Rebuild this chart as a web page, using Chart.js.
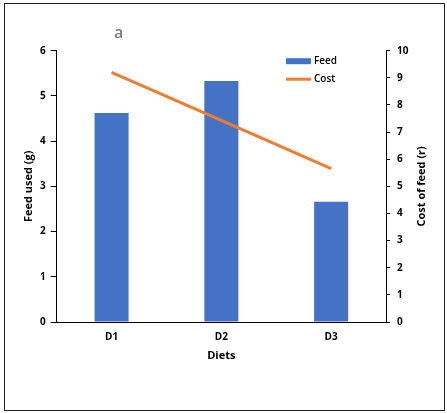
<!DOCTYPE html>
<html>
<head>
<meta charset="utf-8">
<script src="https://cdn.jsdelivr.net/npm/chart.js@4.4.1/dist/chart.umd.min.js"></script>
<style>
html,body{margin:0;padding:0;background:#fff;}
#wrap{position:relative;width:447px;height:413px;}
</style>
</head>
<body>
<div id="wrap"><canvas id="c" width="447" height="413"></canvas></div>
<script>
const categories = ['D1', 'D2', 'D3'];
const feedValues = [4.62, 5.33, 2.66];
const costValues = [9.2, 7.43, 5.65];
const feedTicks = [0, 1, 2, 3, 4, 5, 6];
const costTicks = [0, 1, 2, 3, 4, 5, 6, 7, 8, 9, 10];
const seriesNames = ['Feed', 'Cost'];
const panelLabel = 'a';
const xTitle = 'Diets';
const yTitle = 'Feed used (g)';
const y2Title = 'Cost of feed (r)';

const FONT = '"Open Sans", "Noto Sans", sans-serif';
const BLUE = '#4472C4';
const ORANGE = '#ED7D31';

const decor = {
  id: 'decor',
  beforeDraw(chart) {
    const ctx = chart.ctx;
    ctx.save();
    ctx.fillStyle = '#fff';
    ctx.fillRect(0, 0, chart.width, chart.height);
    ctx.strokeStyle = '#222';
    ctx.lineWidth = 1;
    ctx.strokeRect(4.5, 3.5, 440, 407);
    ctx.restore();
  },
  afterDraw(chart) {
    const ctx = chart.ctx;
    const a = chart.chartArea;
    ctx.save();
    // panel label
    ctx.fillStyle = '#7f7f7f';
    ctx.font = '600 16px ' + FONT;
    ctx.textAlign = 'center';
    ctx.textBaseline = 'middle';
    ctx.fillText(panelLabel, a.left + 62, a.top - 17);
    // right axis title (bottom-to-top)
    ctx.fillStyle = '#000';
    ctx.font = 'bold 11px ' + FONT;
    ctx.translate(chart.width - 25.5, (a.top + a.bottom) / 2);
    ctx.rotate(-Math.PI / 2);
    ctx.fillText(y2Title, 0, 0);
    ctx.restore();
    // legend
    ctx.save();
    const lx = a.right - 100, ly = a.top + 10.5;
    ctx.fillStyle = BLUE;
    ctx.fillRect(lx, ly - 3, 25, 6);
    ctx.strokeStyle = ORANGE;
    ctx.lineWidth = 3;
    ctx.beginPath();
    ctx.moveTo(lx, ly + 18);
    ctx.lineTo(lx + 25, ly + 18);
    ctx.stroke();
    ctx.fillStyle = '#000';
    ctx.font = '600 10px ' + FONT;
    ctx.textAlign = 'left';
    ctx.textBaseline = 'middle';
    ctx.fillText(seriesNames[0], lx + 28, ly);
    ctx.fillText(seriesNames[1], lx + 28, ly + 18);
    ctx.restore();
  }
};

new Chart(document.getElementById('c'), {
  data: {
    labels: categories,
    datasets: [
      {
        type: 'line',
        label: seriesNames[1],
        data: costValues,
        yAxisID: 'y1',
        borderColor: ORANGE,
        backgroundColor: ORANGE,
        borderWidth: 3,
        pointRadius: 0,
        tension: 0,
        order: 0
      },
      {
        type: 'bar',
        label: seriesNames[0],
        data: feedValues,
        yAxisID: 'y',
        backgroundColor: BLUE,
        borderWidth: 0,
        barPercentage: 0.31,
        categoryPercentage: 1,
        order: 1
      }
    ]
  },
  plugins: [decor],
  options: {
    responsive: false,
    animation: false,
    devicePixelRatio: 1,
    layout: { padding: { top: 50.7, left: 0, right: 0, bottom: 0 } },
    plugins: { legend: { display: false }, tooltip: { enabled: false }, title: { display: false } },
    scales: {
      x: {
        type: 'category',
        offset: true,
        grid: { display: false, drawTicks: false },
        border: { display: true, color: '#000', width: 1 },
        ticks: { color: '#000', font: { family: FONT, size: 10, weight: 'bold' }, padding: 9 },
        title: { display: true, text: xTitle, color: '#000', font: { family: FONT, size: 11, weight: 'bold' }, padding: { top: 0, bottom: 50.4 } },
        afterFit(s) { s.height = 91; }
      },
      y: {
        position: 'left',
        min: 0, max: 6,
        afterBuildTicks(s) { s.ticks = feedTicks.map(v => ({ value: v })); },
        grid: { drawOnChartArea: false, drawTicks: true, tickLength: 6, color: '#000' },
        border: { display: true, color: '#000', width: 1 },
        ticks: { color: '#000', font: { family: FONT, size: 10, weight: 'bold' }, padding: 5 },
        title: { display: true, text: yTitle, color: '#000', font: { family: FONT, size: 11, weight: 'bold' }, padding: { top: 22.4, bottom: 0 } },
        afterFit(s) { s.width = 56.7; }
      },
      y1: {
        position: 'right',
        min: 0, max: 10,
        afterBuildTicks(s) { s.ticks = costTicks.map(v => ({ value: v })); },
        grid: { drawOnChartArea: false, drawTicks: true, tickLength: 4, color: '#000' },
        border: { display: true, color: '#000', width: 1 },
        ticks: { color: '#000', font: { family: FONT, size: 10, weight: 'bold' }, padding: 7 },
        afterFit(s) { s.width = 61; }
      }
    }
  }
});
</script>
</body>
</html>
